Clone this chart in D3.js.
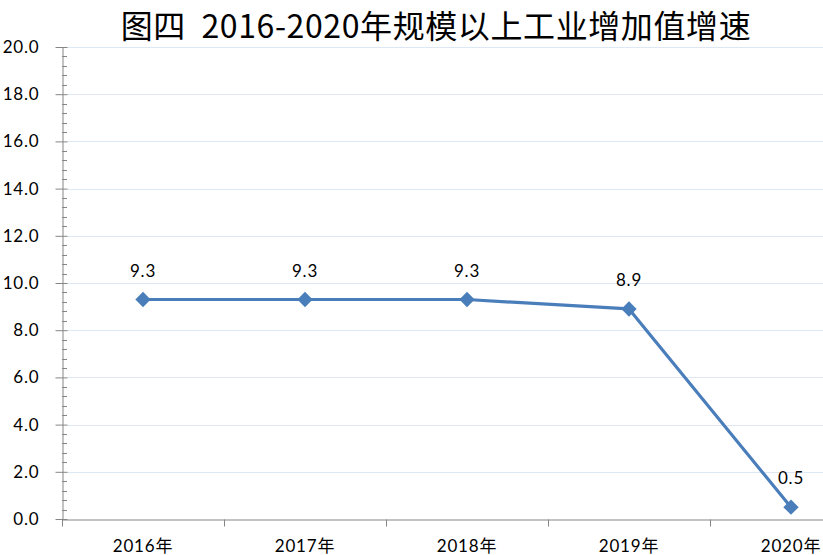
<!DOCTYPE html>
<html>
<head>
<meta charset="utf-8">
<script src="https://cdn.jsdelivr.net/npm/d3@7"></script>
<style>
  body { margin: 0; background: #fff; }
  svg { display: block; }
  .tick text { font-family: Lato, "Noto Sans CJK SC", sans-serif; font-size: 17px; letter-spacing: 0.8px; fill: #000; }
</style>
</head>
<body>
<div class="chart"></div>
<script>
var years = ["2016年", "2017年", "2018年", "2019年", "2020年"];
var growth = [9.3, 9.3, 9.3, 8.9, 0.5];
var yTicks = [0, 2, 4, 6, 8, 10, 12, 14, 16, 18, 20];
var title = "图四  2016-2020年规模以上工业增加值增速";

var width = 823, height = 555;
// plot area runs past the right edge of the picture, like the original
var margin = {top: 47, left: 62, bottom: 36},
    plotRight = 872;

var svg = d3.select(".chart")
    .append("svg")
    .attr("width", width)
    .attr("height", height);

var x = d3.scaleBand()
    .domain(years)
    .range([margin.left, plotRight]);

var y = d3.scaleLinear()
    .domain([0, 20])
    .range([height - margin.bottom, margin.top]);

// grid
svg.append("g")
    .selectAll("line")
    .data(yTicks.slice(1))
    .enter().append("line")
    .attr("x1", margin.left + 5)
    .attr("x2", plotRight)
    .attr("y1", function(d) { return Math.round(y(d)) + 0.5; })
    .attr("y2", function(d) { return Math.round(y(d)) + 0.5; })
    .style("stroke", "#dde8f4")
    .style("stroke-width", 1);

// minor ticks on y axis
var minor = d3.range(0, 20.01, 0.4).filter(function(d) { return Math.abs(d / 2 - Math.round(d / 2)) > 0.01; });
svg.append("g")
    .selectAll("line")
    .data(minor)
    .enter().append("line")
    .attr("x1", margin.left)
    .attr("x2", margin.left + 5)
    .attr("y1", function(d) { return Math.round(y(d)) + 0.5; })
    .attr("y2", function(d) { return Math.round(y(d)) + 0.5; })
    .style("stroke", "#868686");

var yAxis = d3.axisLeft(y)
    .tickValues(yTicks)
    .tickFormat(d3.format(".1f"))
    .tickSizeInner(7)
    .tickSizeOuter(0)
    .tickPadding(16);

var gy = svg.append("g")
    .attr("transform", "translate(" + (margin.left + 0.5) + ",0)")
    .call(yAxis);
gy.selectAll(".tick line").attr("x2", -7).attr("x1", 5);
gy.selectAll("line, path").style("stroke", "#868686");

// x axis: ticks between categories
var xAxis = d3.axisBottom(x)
    .tickSize(0);

var gx = svg.append("g")
    .attr("transform", "translate(0," + (y(0) + 0.5) + ")")
    .call(xAxis);
gx.select(".domain").style("stroke", "#868686");
gx.selectAll(".tick text").attr("y", 32).attr("dy", 0);

gx.selectAll(".sep")
    .data(years)
    .enter().append("line")
    .attr("class", "sep")
    .attr("x1", function(d) { return Math.round(x(d)) + 0.5; })
    .attr("x2", function(d) { return Math.round(x(d)) + 0.5; })
    .attr("y1", 0)
    .attr("y2", 7)
    .style("stroke", "#868686");

// line
var line = d3.line()
    .x(function(d, i) { return x(years[i]) + x.bandwidth() / 2; })
    .y(function(d) { return y(d); });

svg.append("path")
    .datum(growth)
    .attr("d", line)
    .style("fill", "none")
    .style("stroke", "#4a7ebb")
    .style("stroke-width", 3.2)
    .style("stroke-linejoin", "round");

svg.append("g")
    .selectAll("path")
    .data(growth)
    .enter().append("path")
    .attr("d", d3.symbol().type(d3.symbolDiamond2).size(150))
    .attr("transform", function(d, i) {
      return "translate(" + (x(years[i]) + x.bandwidth() / 2) + "," + y(d) + ")";
    })
    .style("fill", "#4a7ebb");

// labels
svg.append("g")
    .selectAll("text")
    .data(growth)
    .enter().append("text")
    .attr("x", function(d, i) { return x(years[i]) + x.bandwidth() / 2; })
    .attr("y", function(d) { return y(d) - 23; })
    .attr("text-anchor", "middle")
    .style("font-family", "Lato, sans-serif")
    .style("font-size", "17px")
    .style("letter-spacing", "0.8px")
    .text(function(d) { return d3.format(".1f")(d); });

svg.append("text")
    .attr("x", 436)
    .attr("y", 37.5)
    .attr("text-anchor", "middle")
    .style("font-family", "'Noto Sans CJK SC', sans-serif")
    .style("font-size", "32px")
    .style("letter-spacing", "0.6px")
    .style("white-space", "pre")
    .text(title);
</script>
</body>
</html>
